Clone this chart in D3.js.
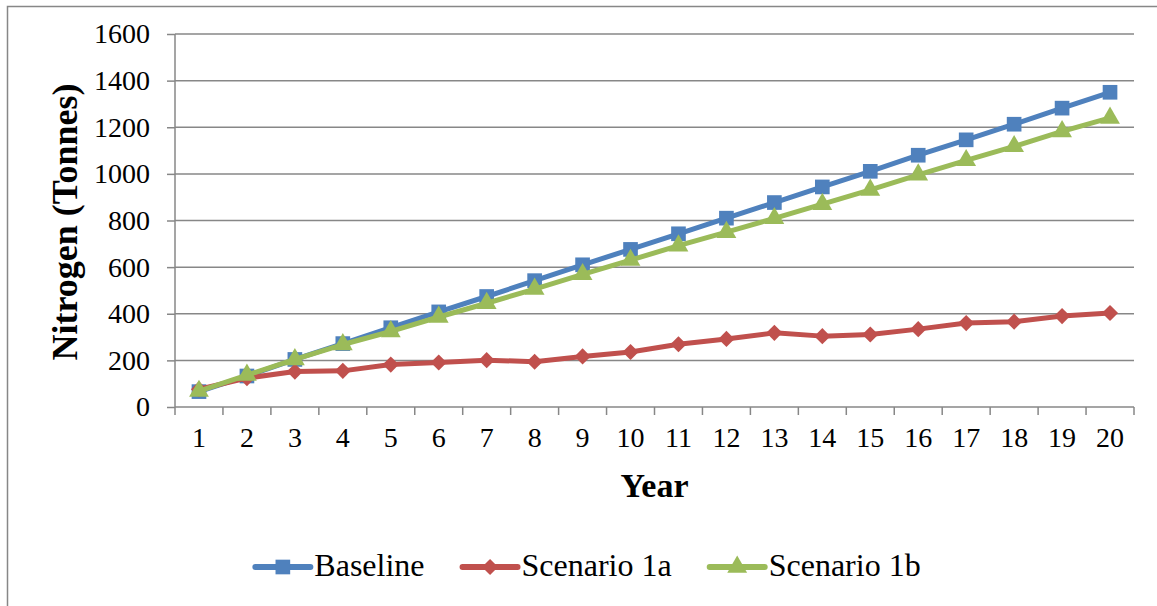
<!DOCTYPE html>
<html>
<head>
<meta charset="utf-8">
<script src="https://cdn.jsdelivr.net/npm/d3@7"></script>
<style>
    body { margin: 0; background: #fff; }
    svg { display: block; font-family: "Liberation Serif", "DejaVu Serif", serif; }
</style>
</head>
<body>
<div id="container"></div>
<script>
/* DATA */
const years = d3.range(1, 21)
const yTicks = [0, 200, 400, 600, 800, 1000, 1200, 1400, 1600]

const baseline = [66, 133, 204, 272, 340, 408, 474, 542, 610, 676, 743, 810, 877, 944, 1011, 1080, 1146, 1213, 1282, 1350]
const scenario1a = [76, 124, 152, 155, 182, 191, 201, 194, 217, 236, 269, 292, 318, 304, 311, 334, 360, 366, 390, 403]
const scenario1b = [68, 137, 204, 268, 324, 386, 445, 506, 569, 630, 692, 750, 809, 870, 931, 996, 1058, 1118, 1182, 1240]

const seriesNames = ["Baseline", "Scenario 1a", "Scenario 1b"]
const seriesColors = ["#4F81BD", "#C0504D", "#9BBB59"]

/* CONSTANTS */
const width = 1157,
    height = 606
const plot = { left: 175, right: 1134, top: 34, bottom: 407 }
const grey = "#878787"

// diamond shape like the spreadsheet marker
const diamond = {
    draw(ctx, size) {
        const r = Math.sqrt(size) / 2
        ctx.moveTo(0, -r); ctx.lineTo(r, 0); ctx.lineTo(0, r); ctx.lineTo(-r, 0); ctx.closePath()
    }
}
const markers = [d3.symbol(d3.symbolSquare, 215), d3.symbol(diamond, 260), d3.symbol(d3.symbolTriangle, 170)]

const series = seriesNames.map((name, i) => ({
    name: name,
    color: seriesColors[i],
    marker: markers[i],
    values: [baseline, scenario1a, scenario1b][i].map((v, j) => ({ year: years[j], value: v }))
}))

//SCALES
const xScale = d3.scaleBand()
    .domain(years)
    .range([plot.left, plot.right])

const yScale = d3.scaleLinear()
    .domain([0, 1600])
    .range([plot.bottom, plot.top])

//SVG
const svg = d3.select("#container")
    .append("svg")
    .attr("width", width)
    .attr("height", height)

// chart border (only left/top visible in the picture)
svg.append("rect")
    .attr("x", 7.5)
    .attr("y", 6.5)
    .attr("width", 1162)
    .attr("height", 620)
    .attr("fill", "#fff")
    .attr("stroke", grey)
    .attr("stroke-width", 1.5)

// GRIDLINES
svg.append("g")
    .selectAll("line")
    .data(yTicks.filter(d => d > 0))
    .join("line")
    .attr("x1", plot.left)
    .attr("x2", plot.right)
    .attr("y1", d => yScale(d))
    .attr("y2", d => yScale(d))
    .attr("stroke", grey)
    .attr("stroke-width", 1.5)

// Y AXIS
const yAxis = svg.append("g")
    .attr("class", "axis")
    .attr("transform", "translate(" + plot.left + ",0)")
    .call(d3.axisLeft(yScale).tickValues(yTicks).tickFormat(d3.format("d")).tickSize(8).tickPadding(17))
    .attr("font-family", null)
    .attr("font-size", null)
yAxis.selectAll("line, path").attr("stroke", grey).attr("stroke-width", 1.5)
yAxis.select(".domain").attr("d", "M0," + plot.top + "V" + plot.bottom)
yAxis.selectAll("text")
    .style("font-size", "28px")
    .attr("fill", "#000")

// X AXIS
const xAxis = svg.append("g")
    .attr("class", "axis")
    .attr("transform", "translate(0," + plot.bottom + ")")
    .call(d3.axisBottom(xScale).tickSize(0).tickPadding(20))
    .attr("font-family", null)
    .attr("font-size", null)
xAxis.select(".domain")
    .attr("d", "M" + plot.left + ",0H" + plot.right)
    .attr("stroke", grey).attr("stroke-width", 1.5)
xAxis.selectAll("text")
    .style("font-size", "28px")
    .attr("fill", "#000")

// x ticks sit between the categories
xAxis.append("g")
    .selectAll("line")
    .data(years.map(d => xScale(d)).concat([plot.right]))
    .join("line")
    .attr("x1", d => d)
    .attr("x2", d => d)
    .attr("y1", 0)
    .attr("y2", 8)
    .attr("stroke", grey)
    .attr("stroke-width", 1.5)

// LINES + MARKERS
const line = d3.line()
    .x(d => xScale(d.year) + xScale.bandwidth() / 2)
    .y(d => yScale(d.value))

const groups = svg.selectAll(".series")
    .data(series)
    .join("g")
    .attr("class", "series")

groups.append("path")
    .attr("d", d => line(d.values))
    .attr("fill", "none")
    .attr("stroke", d => d.color)
    .attr("stroke-width", 5)
    .attr("stroke-linejoin", "round")
    .attr("stroke-linecap", "round")

groups.each(function(s) {
    d3.select(this).selectAll("path.marker")
        .data(s.values)
        .join("path")
        .attr("class", "marker")
        .attr("d", s.marker)
        .attr("transform", d => "translate(" + (xScale(d.year) + xScale.bandwidth() / 2) + "," + yScale(d.value) + ")")
        .attr("fill", s.color)
})

// LABELS
svg.append("text")
    .attr("x", (plot.left + plot.right) / 2)
    .attr("y", 497)
    .attr("text-anchor", "middle")
    .style("font-size", "34px")
    .style("font-weight", "bold")
    .text("Year")

svg.append("text")
    .attr("transform", "translate(77," + 222 + ") rotate(-90)")
    .attr("text-anchor", "middle")
    .style("font-size", "36px")
    .style("font-weight", "bold")
    .text("Nitrogen (Tonnes)")

// LEGEND
const legend = svg.append("g")
const legendY = 567
const lineLen = 55
let cursor = 0
series.forEach(s => {
    const g = legend.append("g")
    g.append("line")
        .attr("x1", 0).attr("x2", lineLen)
        .attr("y1", legendY).attr("y2", legendY)
        .attr("stroke", s.color)
        .attr("stroke-width", 6)
        .attr("stroke-linecap", "round")
    g.append("path")
        .attr("d", s.marker)
        .attr("transform", "translate(" + lineLen / 2 + "," + legendY + ")")
        .attr("fill", s.color)
    const t = g.append("text")
        .attr("x", lineLen + 4)
        .attr("y", legendY + 9)
        .style("font-size", "32px")
        .text(s.name)
    const w = lineLen + 4 + t.node().getComputedTextLength()
    g.attr("transform", "translate(" + cursor + ",0)")
    cursor += w + 38
})
const legendWidth = cursor - 38
legend.attr("transform", "translate(" + (588 - legendWidth / 2) + ",0)")
</script>
</body>
</html>
